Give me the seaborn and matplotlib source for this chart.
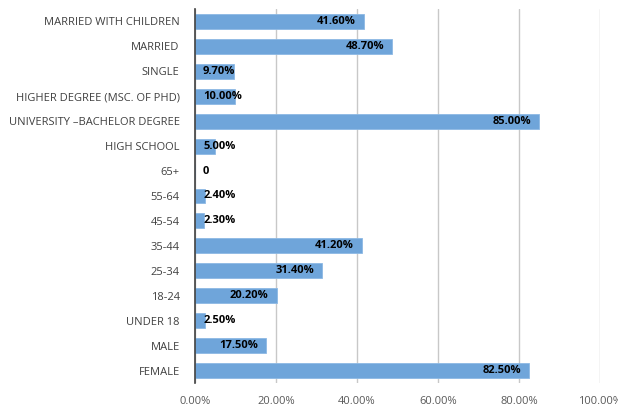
import matplotlib
matplotlib.use("Agg")
import matplotlib.pyplot as plt
import seaborn as sns
import pandas as pd

categories = ["MARRIED WITH CHILDREN", "MARRIED", "SINGLE", "HIGHER DEGREE (MSC. OF PHD)",
              "UNIVERSITY \u2013BACHELOR DEGREE", "HIGH SCHOOL", "65+", "55-64", "45-54",
              "35-44", "25-34", "18-24", "UNDER 18", "MALE", "FEMALE"]
values = [0.416, 0.487, 0.097, 0.100, 0.850, 0.050, 0.0, 0.024, 0.023,
          0.412, 0.314, 0.202, 0.025, 0.175, 0.825]
labels = ["41.60%", "48.70%", "9.70%", "10.00%", "85.00%", "5.00%", "0", "2.40%", "2.30%",
          "41.20%", "31.40%", "20.20%", "2.50%", "17.50%", "82.50%"]
xticks = [0, 0.2, 0.4, 0.6, 0.8, 1.0]
xticklabels = ["0.00%", "20.00%", "40.00%", "60.00%", "80.00%", "100.00%"]

sns.set_theme(style="white")
plt.rcParams['font.family'] = ['Open Sans', 'DejaVu Sans']

df = pd.DataFrame({"cat": categories, "val": values})
fig = plt.figure(figsize=(6.18, 4.08), dpi=100)
ax = fig.add_axes([0.3155, 0.0613, 0.6555, 0.9167])
sns.barplot(data=df, x="val", y="cat", orient="h", color="#6FA5DA", saturation=1,
            width=0.6, ax=ax, edgecolor="#8DB9E4", linewidth=0.6, zorder=3)
ax.set_xlim(0, 1.0)
ax.set_ylim(14.5, -0.5)
ax.set_xticks(xticks)
ax.set_xticklabels(xticklabels, fontsize=8, color="#595959")
ax.tick_params(axis="y", labelsize=8, labelcolor="#404040", length=0, pad=11)
ax.tick_params(axis="x", length=0, pad=9.5)
ax.set_xlabel("")
ax.set_ylabel("")
ax.grid(axis="x", color="#C8C8C8", linewidth=1, zorder=0)
ax.set_axisbelow(True)
for s in ["top", "right", "bottom"]:
    ax.spines[s].set_visible(False)
ax.spines["left"].set_color("#404040")
ax.spines["left"].set_linewidth(1.2)
ax.spines["left"].set_zorder(5)

for i, (v, lab) in enumerate(zip(values, labels)):
    if v >= 0.12:
        ax.text(v - 0.02, i, lab, ha="right", va="center", fontsize=8, fontweight="bold",
                color="black", zorder=6)
    else:
        ax.text(0.02, i, lab, ha="left", va="center", fontsize=8, fontweight="bold",
                color="black", zorder=6)

fig.savefig("out.png", dpi=100)
